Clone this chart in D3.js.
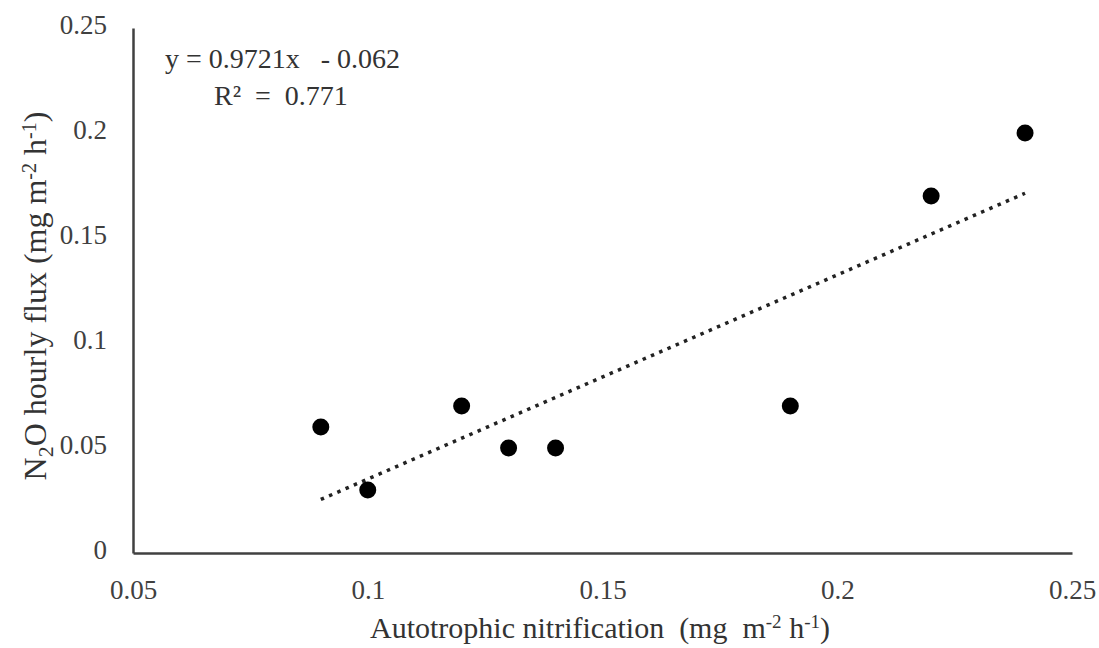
<!DOCTYPE html>
<html>
<head>
<meta charset="utf-8">
<script src="https://cdn.jsdelivr.net/npm/d3@7"></script>
<style>
  body { margin: 0; background: #fff; }
  text { font-family: "Liberation Serif", "Times New Roman", serif; }
</style>
</head>
<body>
<div id="chart"></div>
<script>
var width  = 1099;
var height = 648;

// data
var nitrification = [0.09, 0.10, 0.12, 0.13, 0.14, 0.19, 0.22, 0.24];
var n2oFlux       = [0.06, 0.03, 0.07, 0.05, 0.05, 0.07, 0.17, 0.20];
var xTicks = [0.05, 0.1, 0.15, 0.2, 0.25];
var yTicks = [0, 0.05, 0.1, 0.15, 0.2, 0.25];
var slope = 0.9721, intercept = -0.062;

var margin = {left: 133, right: 27, top: 28, bottom: 95};

var svg = d3.select("#chart").append("svg")
  .attr("width", width)
  .attr("height", height);

var x = d3.scaleLinear().domain([0.05, 0.25]).range([margin.left, width - margin.right]);
var y = d3.scaleLinear().domain([0, 0.25]).range([height - margin.bottom, margin.top]);

var fmt = function(d) { return d === 0 ? "0" : String(+d.toFixed(2)); };

// x axis
var gx = svg.append("g")
  .attr("transform", "translate(0," + y(0) + ")")
  .call(d3.axisBottom(x).tickValues(xTicks).tickSize(0).tickPadding(27).tickFormat(fmt));
gx.select(".domain").attr("stroke", "#404040").attr("stroke-width", 2.5);
gx.selectAll("text").attr("font-size", 27).attr("fill", "#404040")
  .attr("font-family", "Liberation Serif");

// y axis
var gy = svg.append("g")
  .attr("transform", "translate(" + x(0.05) + ",0)")
  .call(d3.axisLeft(y).tickValues(yTicks).tickSize(0).tickPadding(26).tickFormat(fmt));
gy.select(".domain").attr("stroke", "#404040").attr("stroke-width", 2.5);
gy.selectAll("text").attr("font-size", 27).attr("fill", "#404040")
  .attr("font-family", "Liberation Serif").attr("dy", "0.2em");

// trend line, from first to last x
var xs = d3.extent(nitrification);
svg.append("line")
  .attr("x1", x(xs[0])).attr("y1", y(slope * xs[0] + intercept))
  .attr("x2", x(xs[1])).attr("y2", y(slope * xs[1] + intercept))
  .attr("stroke", "#222")
  .attr("stroke-width", 3.5)
  .attr("stroke-dasharray", "3.5 5.5");

// points
svg.selectAll("circle.pt")
  .data(nitrification)
  .enter()
  .append("circle")
  .attr("class", "pt")
  .attr("cx", function(d) { return x(d); })
  .attr("cy", function(d, i) { return y(n2oFlux[i]); })
  .attr("r", 8.5)
  .attr("fill", "#000");

// equation
svg.append("text")
  .attr("x", 165).attr("y", 68)
  .attr("font-size", 28).attr("fill", "#333")
  .attr("xml:space", "preserve")
  .text("y = 0.9721x   - 0.062");
svg.append("text")
  .attr("x", 214).attr("y", 105)
  .attr("font-size", 28).attr("fill", "#333")
  .attr("xml:space", "preserve")
  .text("R\u00b2  =  0.771");

// x title
var xt = svg.append("text")
  .attr("x", 600)
  .attr("y", 638)
  .attr("text-anchor", "middle")
  .attr("font-size", 30)
  .attr("fill", "#333")
  .attr("xml:space", "preserve");
xt.append("tspan").text("Autotrophic nitrification  (mg  m");
xt.append("tspan").attr("dy", -10).attr("font-size", 19).text("-2");
xt.append("tspan").attr("dy", 10).text(" h");
xt.append("tspan").attr("dy", -10).attr("font-size", 19).text("-1");
xt.append("tspan").attr("dy", 10).text(")");

// y title
var yt = svg.append("text")
  .attr("transform", "translate(46," + 296 + ") rotate(-90)")
  .attr("text-anchor", "middle")
  .attr("font-size", 32)
  .attr("fill", "#333");
yt.append("tspan").text("N");
yt.append("tspan").attr("dy", 7).attr("font-size", 22).text("2");
yt.append("tspan").attr("dy", -7).text("O hourly flux (mg m");
yt.append("tspan").attr("dy", -10).attr("font-size", 20).text("-2");
yt.append("tspan").attr("dy", 10).text(" h");
yt.append("tspan").attr("dy", -10).attr("font-size", 20).text("-1");
yt.append("tspan").attr("dy", 10).text(")");
</script>
</body>
</html>
